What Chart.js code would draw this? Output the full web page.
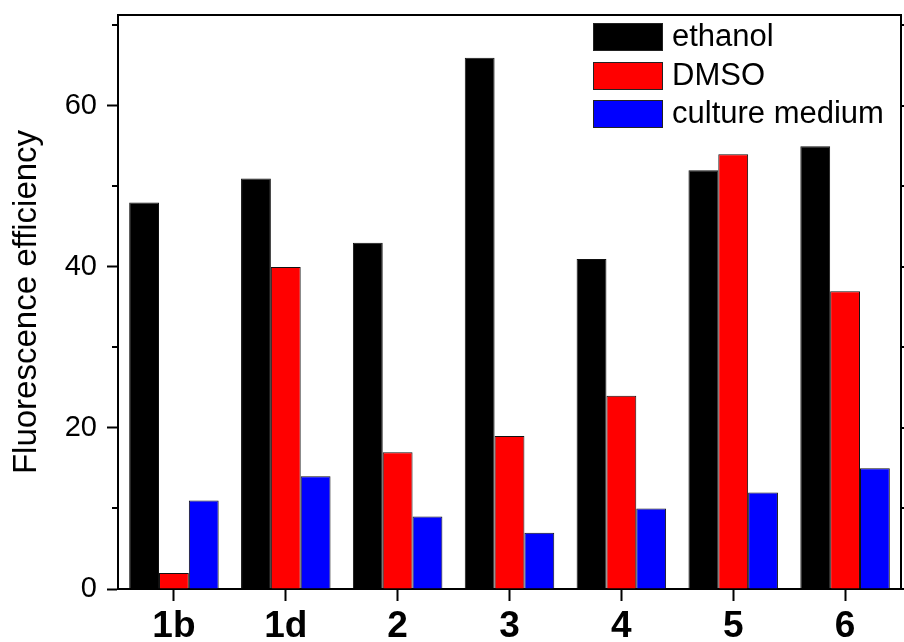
<!DOCTYPE html>
<html>
<head>
<meta charset="utf-8">
<script src="https://cdn.jsdelivr.net/npm/chart.js@4.4.1/dist/chart.umd.min.js"></script>
<style>
  html, body { margin: 0; padding: 0; background: #fff; }
  #wrap { width: 904px; height: 642px; }
</style>
</head>
<body>
<div id="wrap"><canvas id="chart" width="904" height="642"></canvas></div>
<script>
// data
const categories = ['1b', '1d', '2', '3', '4', '5', '6']
const ethanol = [48, 51, 43, 66, 41, 52, 55]
const dmso = [2, 40, 17, 19, 24, 54, 37]
const cultureMedium = [11, 14, 9, 7, 10, 12, 15]
const seriesNames = ['ethanol', 'DMSO', 'culture medium']
const seriesColors = ['#000000', '#ff0000', '#0000ff']
const yTickLabels = [0, 20, 40, 60]
const yMinorTicks = [10, 30, 50, 70]

const FONT = "'Liberation Sans', Arial, sans-serif"

// frame (top + right), minor ticks, legend inside the plot
const framePlugin = {
    id: 'frame',
    afterDraw(chart) {
        const { ctx, chartArea } = chart
        const y = chart.scales.y
        ctx.save()
        ctx.strokeStyle = '#000'
        ctx.lineWidth = 2
        ctx.beginPath()
        ctx.moveTo(chartArea.left - 1, chartArea.top)
        ctx.lineTo(chartArea.right, chartArea.top)
        ctx.lineTo(chartArea.right, chartArea.bottom)
        // left minor ticks
        yMinorTicks.forEach(v => {
            const py = Math.round(y.getPixelForValue(v))
            ctx.moveTo(chartArea.left, py)
            ctx.lineTo(chartArea.left - 6, py)
        })
        // right side ticks, outward
        yTickLabels.concat(yMinorTicks).forEach(v => {
            const py = Math.round(y.getPixelForValue(v))
            ctx.moveTo(chartArea.right, py)
            ctx.lineTo(chartArea.right + (yTickLabels.includes(v) ? 11 : 6), py)
        })
        ctx.stroke()

        // legend
        const x = 593, w = 69, h = 27
        const ys = [23, 62, 100]
        ctx.font = '31px ' + FONT
        ctx.textBaseline = 'middle'
        chart.data.datasets.forEach((ds, i) => {
            ctx.fillStyle = ds.backgroundColor
            ctx.fillRect(x, ys[i], w, h)
            ctx.lineWidth = 1
            ctx.strokeStyle = '#222'
            ctx.strokeRect(x + 0.5, ys[i] + 0.5, w, h)
            ctx.fillStyle = '#000'
            ctx.fillText(ds.label, 672, ys[i] + h / 2 + 1)
        })
        ctx.restore()
    }
}

const values = [ethanol, dmso, cultureMedium]

new Chart(document.getElementById('chart').getContext('2d'), {
    type: 'bar',
    data: {
        labels: categories,
        datasets: seriesNames.map((name, i) => ({
            label: name,
            data: values[i],
            backgroundColor: seriesColors[i],
            borderColor: '#111',
            borderWidth: 1,
            categoryPercentage: 0.8,
            barPercentage: 1.0
        }))
    },
    options: {
        responsive: false,
        animation: false,
        layout: { padding: { top: 15, left: 0, right: 3, bottom: 0 } },
        plugins: {
            legend: { display: false },
            tooltip: { enabled: false }
        },
        scales: {
            x: {
                grid: {
                    display: true,
                    drawOnChartArea: false,
                    tickLength: 12,
                    tickWidth: 2,
                    tickColor: '#000',
                    offset: false
                },
                border: { display: true, color: '#000', width: 2 },
                ticks: {
                    color: '#000',
                    padding: 4,
                    font: { family: FONT, size: 37, weight: 'bold' }
                },
                afterFit(scale) {
                    scale.height = 53
                    scale.paddingLeft = 0
                    scale.paddingRight = 0
                }
            },
            y: {
                min: 0,
                max: 71.3,
                afterBuildTicks(scale) {
                    scale.ticks = yTickLabels.map(v => ({ value: v }))
                },
                grid: {
                    display: true,
                    drawOnChartArea: false,
                    tickLength: 11,
                    tickWidth: 2,
                    tickColor: '#000'
                },
                border: { display: true, color: '#000', width: 2 },
                ticks: {
                    color: '#000',
                    padding: 10,
                    font: { family: FONT, size: 29 }
                },
                title: {
                    display: true,
                    text: 'Fluorescence efficiency',
                    color: '#000',
                    padding: { top: 7, bottom: 0 },
                    font: { family: FONT, size: 33 }
                },
                afterFit(scale) {
                    scale.width = 118
                    scale.paddingTop = 0
                    scale.paddingBottom = 0
                }
            }
        }
    },
    plugins: [framePlugin]
})
</script>
</body>
</html>
